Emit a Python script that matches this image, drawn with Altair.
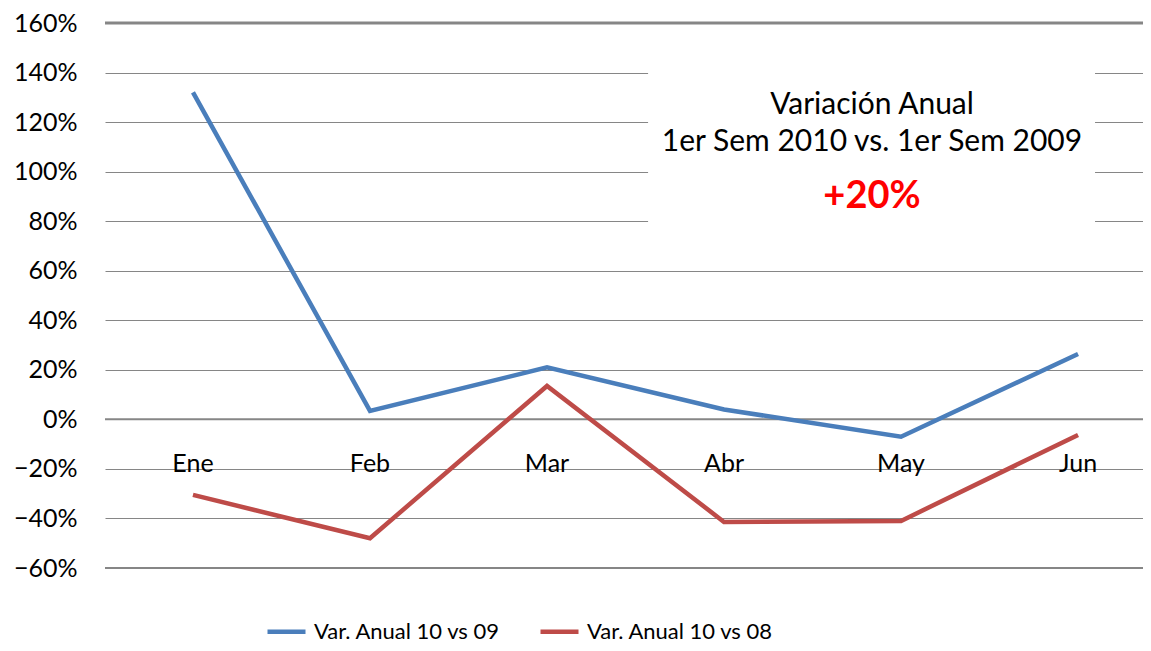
import altair as alt
import pandas as pd

meses = ["Ene", "Feb", "Mar", "Abr", "May", "Jun"]
var_10_09 = [1.32, 0.034, 0.21, 0.04, -0.07, 0.264]
var_10_08 = [-0.305, -0.48, 0.135, -0.414, -0.41, -0.063]
series_names = ["Var. Anual 10 vs 09", "Var. Anual 10 vs 08"]
y_ticks = [-0.6, -0.4, -0.2, 0, 0.2, 0.4, 0.6, 0.8, 1.0, 1.2, 1.4, 1.6]
top_line = [1.6]
mid_lines = [0.0, -0.6]
note_lines = ["Variación Anual", "1er Sem 2010 vs. 1er Sem 2009"]
note_value = "+20%"

FONT = "Lato"
rows = []
for i, m in enumerate(meses):
    rows.append({"idx": i, "Mes": m, "serie": series_names[0], "valor": var_10_09[i]})
    rows.append({"idx": i, "Mes": m, "serie": series_names[1], "valor": var_10_08[i]})
df = pd.DataFrame(rows)
cats = pd.DataFrame({"idx": list(range(len(meses))), "Mes": meses, "valor": [0.0] * len(meses)})

xscale = alt.Scale(domain=[-0.497, 5.367], nice=False, zero=False)
yscale = alt.Scale(domain=[-0.6, 1.6], nice=False, zero=False)

X = alt.X("idx:Q", scale=xscale, axis=None)
Y = alt.Y("valor:Q", scale=yscale,
          axis=alt.Axis(values=y_ticks, format=".0%", title=None, ticks=False, domain=False,
                        labelFont=FONT, labelFontSize=25, labelColor="#000000",
                        labelPadding=28, grid=True, gridColor="#868686", gridWidth=1.2))

grid = alt.Chart(df).mark_point(opacity=0).encode(x=X, y=Y)

rule_top = alt.Chart(pd.DataFrame({"valor": top_line})).mark_rule(
    color="#868686", strokeWidth=3).encode(y=alt.Y("valor:Q", scale=yscale))
rule_mid = alt.Chart(pd.DataFrame({"valor": mid_lines})).mark_rule(
    color="#868686", strokeWidth=2).encode(y=alt.Y("valor:Q", scale=yscale))

box_df = pd.DataFrame({"idx": [2.571], "idx2": [5.096], "valor": [0.744], "valor2": [1.49]})
box = alt.Chart(box_df).mark_rect(color="white").encode(
    x=X, x2=alt.X2("idx2:Q"), y=alt.Y("valor:Q", scale=yscale), y2=alt.Y2("valor2:Q"))

cat_text = alt.Chart(cats).mark_text(font=FONT, fontSize=25, baseline="alphabetic", dy=53,
                                     color="#000000").encode(
    x=X, y=alt.Y("valor:Q", scale=yscale), text="Mes:N")

lines = alt.Chart(df).mark_line(strokeWidth=4.5).encode(
    x=X,
    y=alt.Y("valor:Q", scale=yscale),
    color=alt.Color("serie:N", sort=series_names,
                    scale=alt.Scale(domain=series_names, range=["#4A7EBB", "#BE4B48"]),
                    legend=alt.Legend(title=None, orient="none", direction="horizontal",
                                      legendX=160, legendY=587, symbolType="stroke",
                                      symbolStrokeWidth=4.5, symbolSize=1444, labelFont=FONT,
                                      labelFontSize=22, labelColor="#000000", labelLimit=400,
                                      columnPadding=30, labelOffset=6)))

note_df = pd.DataFrame({"idx": [3.836, 3.836], "valor": [1.27, 1.12], "t": note_lines})
note = alt.Chart(note_df).mark_text(font=FONT, fontSize=30, color="#000000", baseline="middle").encode(
    x=X, y=alt.Y("valor:Q", scale=yscale), text="t:N")
val_df = pd.DataFrame({"idx": [3.836], "valor": [0.898], "t": [note_value]})
val = alt.Chart(val_df).mark_text(font=FONT, fontSize=38, fontWeight="bold", color="#FF0000",
                                  baseline="middle").encode(
    x=X, y=alt.Y("valor:Q", scale=yscale), text="t:N")

chart = alt.layer(grid, rule_top, rule_mid, box, cat_text, lines, note, val).properties(
    width=1038, height=545,
    autosize=alt.AutoSizeParams(type="none"),
    padding={"left": 97, "top": 15, "right": 0, "bottom": 75},
    background="white",
).configure_view(stroke=None)

chart.save("out.html", embed_options={"renderer": "svg", "actions": False})
